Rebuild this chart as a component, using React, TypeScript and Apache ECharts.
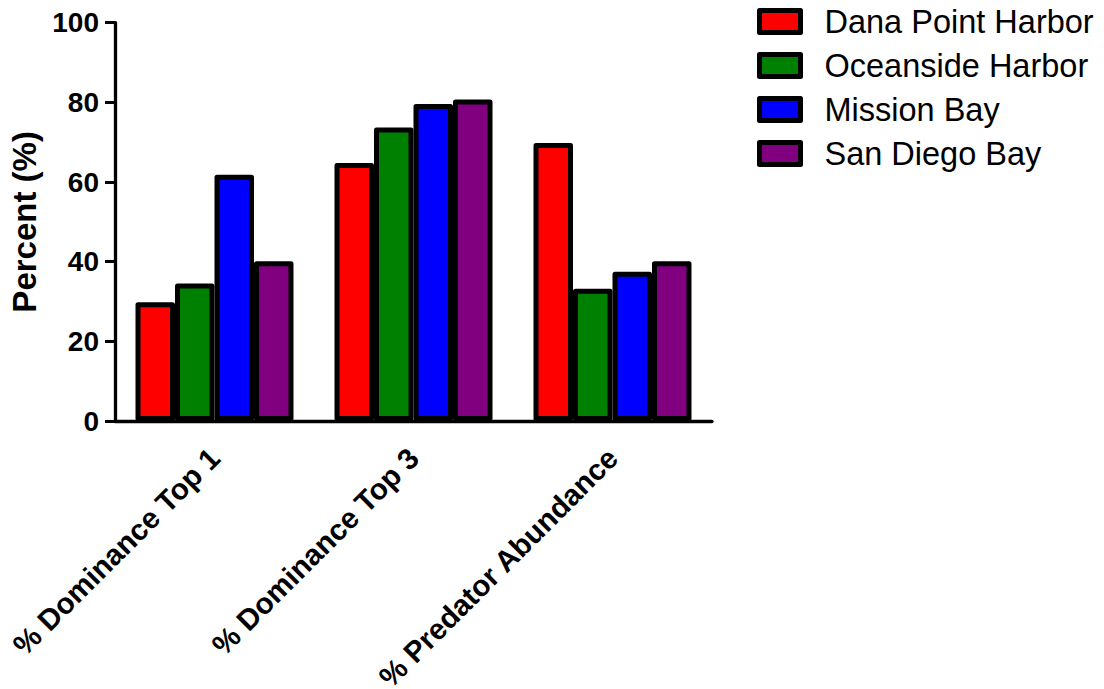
import React, { useEffect, useRef } from "react";
import * as echarts from "echarts";

const categories = ["% Dominance Top 1", "% Dominance Top 3", "% Predator Abundance"];
const seriesNames = ["Dana Point Harbor", "Oceanside Harbor", "Mission Bay", "San Diego Bay"];
const seriesColors = ["#ff0000", "#008000", "#0000ff", "#800080"];
const danaPoint = [29.8, 64.8, 69.8];
const oceanside = [34.5, 73.7, 33.2];
const missionBay = [61.8, 79.6, 37.5];
const sanDiego = [40.1, 80.7, 40.1];
const seriesValues = [danaPoint, oceanside, missionBay, sanDiego];
const yTicks = { min: 0, max: 100, interval: 20 };

const FONT = "Arial, 'Liberation Sans', Helvetica, sans-serif";

export default function App() {
  const ref = useRef<HTMLDivElement>(null);
  useEffect(() => {
    document.body.style.margin = "0";
    const chart = echarts.init(ref.current!, null, { renderer: "svg" });
    chart.setOption({
      animation: false,
      backgroundColor: "#ffffff",
      grid: {
        left: 115,
        right: 392,
        top: 22.7,
        bottom: 268,
        containLabel: false,
        outerBoundsMode: "none",
      },
      legend: {
        orient: "vertical",
        left: 757,
        top: 4.5,
        padding: 0,
        itemWidth: 41,
        itemHeight: 22,
        itemGap: 10,
        icon: "rect",
        data: seriesNames,
        itemStyle: { borderColor: "#000", borderWidth: 5, borderJoin: "round" },
        textStyle: {
          fontFamily: FONT,
          fontSize: 32.5,
          color: "#000",
          lineHeight: 34,
          padding: [0, 0, 0, 19],
        },
      },
      xAxis: {
        type: "category",
        data: categories,
        axisLine: { lineStyle: { color: "#000", width: 3.3 } },
        axisTick: { alignWithLabel: true, length: 11, lineStyle: { color: "#000", width: 3 } },
        axisLabel: {
          rotate: 45,
          interval: 0,
          margin: 32,
          fontFamily: FONT,
          fontSize: 29.5,
          lineHeight: 29,
          fontWeight: "bold",
          color: "#000",
        },
      },
      yAxis: {
        type: "value",
        min: yTicks.min,
        max: yTicks.max,
        interval: yTicks.interval,
        name: "Percent (%)",
        nameLocation: "middle",
        nameRotate: 90,
        nameGap: 70,
        nameTextStyle: { fontFamily: FONT, fontSize: 33, fontWeight: "bold", color: "#000" },
        splitLine: { show: false },
        axisLine: { show: true, lineStyle: { color: "#000", width: 3.3 } },
        axisTick: { show: true, length: 10, lineStyle: { color: "#000", width: 3 } },
        axisLabel: {
          margin: 16,
          fontFamily: FONT,
          fontSize: 28,
          fontWeight: "bold",
          color: "#000",
        },
      },
      series: seriesNames.map((name, i) => ({
        name,
        type: "bar",
        data: seriesValues[i],
        barWidth: 39.5,
        barGap: "0%",
        itemStyle: {
          color: seriesColors[i],
          borderColor: "#000",
          borderWidth: 5,
          borderJoin: "round",
        },
      })),
    });
    return () => chart.dispose();
  }, []);
  return <div ref={ref} style={{ width: 1104, height: 689 }} />;
}
